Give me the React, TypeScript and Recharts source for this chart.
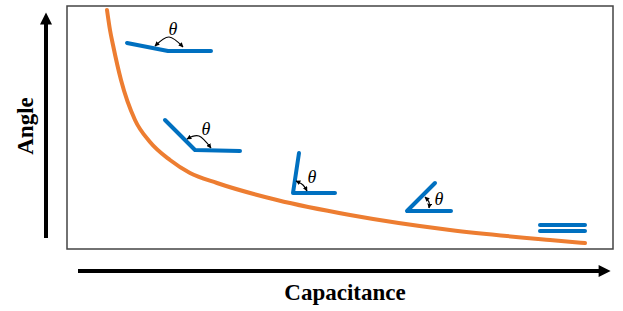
import React from 'react';
import { LineChart, Line, XAxis, YAxis, ReferenceArea, ReferenceDot } from 'recharts';

// Plot units: capacitance 0..546, angle 0..243 (arbitrary)
const X_DOMAIN = [0, 546];
const Y_DOMAIN = [0, 243];

// angle vs capacitance curve
const curveCap = [40, 43, 46, 54, 68, 83, 103, 123, 150, 210, 283, 383, 483, 518];
const curveAngle = [239, 219, 204, 169, 129, 107, 89, 76, 66, 49, 34, 19, 9, 6];

// bent-electrode sketches (three points each: free end, vertex, free end)
const sketchX = [
  [60, 101, 144],
  [98, 128, 173],
  [232, 226, 268],
  [368, 340, 384],
  [473, 518],
  [473, 518],
];
const sketchY = [
  [206, 198, 198],
  [129, 99, 98],
  [96, 56, 56],
  [66, 38, 38],
  [24, 24],
  [18, 18],
];

// theta arcs
const arcX = [
  [88, 102, 116],
  [120, 132, 144],
  [229, 236, 240],
  [358, 362, 362],
];
const arcY = [
  [203, 212, 202],
  [110, 113, 101],
  [68, 64, 58],
  [52, 47, 41],
];

// theta labels
const thetaX = [106, 139, 245, 372];
const thetaY = [220, 120, 72, 50];

const ORANGE = '#ED7D31';
const BLUE = '#0070C0';
const SERIF = '"Liberation Serif", "Times New Roman", serif';

const toPoints = (xs: number[], ys: number[]) => xs.map((x, i) => ({ x, y: ys[i] }));

const curveData = toPoints(curveCap, curveAngle);

export default function App() {
  return (
    <div style={{ position: 'absolute', left: 0, top: 0, width: 623, height: 311, background: '#fff' }}>
      <svg width={0} height={0} style={{ position: 'absolute' }}>
        <defs>
          <marker id="tip" viewBox="0 0 10 10" refX="9" refY="5" markerWidth="4" markerHeight="4" orient="auto-start-reverse">
            <path d="M0,0 L10,5 L0,10 z" fill="#000" />
          </marker>
          <marker id="bigTip" viewBox="0 0 10 10" refX="2" refY="5" markerWidth="3.2" markerHeight="3" orient="auto">
            <path d="M0,0 L10,5 L0,10 z" fill="#000" />
          </marker>
        </defs>
      </svg>
      <LineChart
        width={623}
        height={311}
        margin={{ top: 6, right: 10, bottom: 62, left: 67 }}
      >
        <XAxis type="number" dataKey="x" domain={X_DOMAIN} hide allowDataOverflow />
        <YAxis type="number" dataKey="y" domain={Y_DOMAIN} hide allowDataOverflow />
        <ReferenceArea
          x1={X_DOMAIN[0]}
          x2={X_DOMAIN[1]}
          y1={Y_DOMAIN[0]}
          y2={Y_DOMAIN[1]}
          fill="none"
          fillOpacity={0}
          stroke="#444"
          strokeWidth={1.5}
        />
        <Line
          data={curveData}
          dataKey="y"
          type="monotone"
          stroke={ORANGE}
          strokeWidth={4}
          strokeLinecap="round"
          dot={false}
          isAnimationActive={false}
        />
        {sketchX.map((xs, i) => (
          <Line
            key={`sketch-${i}`}
            data={toPoints(xs, sketchY[i])}
            dataKey="y"
            type="linear"
            stroke={BLUE}
            strokeWidth={4}
            strokeLinecap="round"
            strokeLinejoin="round"
            dot={false}
            isAnimationActive={false}
          />
        ))}
        {arcX.map((xs, i) => (
          <Line
            key={`arc-${i}`}
            data={toPoints(xs, arcY[i])}
            dataKey="y"
            type="natural"
            stroke="#000"
            strokeWidth={1.2}
            markerStart="url(#tip)"
            markerEnd="url(#tip)"
            dot={false}
            isAnimationActive={false}
          />
        ))}
        {thetaX.map((x, i) => (
          <ReferenceDot
            key={`theta-${i}`}
            x={x}
            y={thetaY[i]}
            r={0}
            fill="none"
            stroke="none"
            label={{
              value: 'θ',
              position: 'center',
              fill: '#000',
              fontSize: 18,
              fontStyle: 'italic',
              fontFamily: SERIF,
            }}
          />
        ))}
      </LineChart>
      <svg width={623} height={311} style={{ position: 'absolute', left: 0, top: 0, pointerEvents: 'none' }}>
        <line x1={46} y1={238} x2={46} y2={22} stroke="#000" strokeWidth={4} markerEnd="url(#bigTip)" />
        <line x1={78} y1={271} x2={601} y2={271} stroke="#000" strokeWidth={4} markerEnd="url(#bigTip)" />
        <text
          x={345}
          y={300}
          textAnchor="middle"
          fontFamily={SERIF}
          fontWeight="bold"
          fontSize={23}
          fill="#000"
        >
          Capacitance
        </text>
        <text
          x={33}
          y={126}
          textAnchor="middle"
          transform="rotate(-90 33 126)"
          fontFamily={SERIF}
          fontWeight="bold"
          fontSize={23}
          fill="#000"
        >
          Angle
        </text>
      </svg>
    </div>
  );
}
